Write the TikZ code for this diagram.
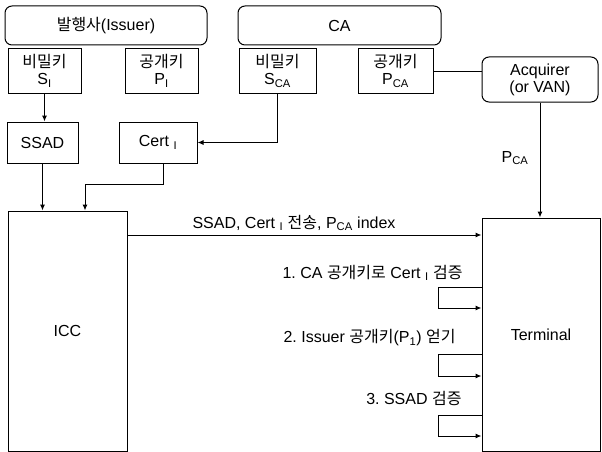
\documentclass[tikz,border=0pt]{standalone}
\usepackage{fontspec}
\setmainfont{Liberation Sans}
\newfontfamily\kr[Scale=1.0]{Noto Sans CJK KR}
\usetikzlibrary{arrows.meta}
\frenchspacing
\begin{document}
\begin{tikzpicture}[x=1pt,y=-1pt, line width=1pt,
  font=\fontsize{16}{17}\selectfont\frenchspacing,
  box/.style={draw, inner sep=0pt, align=center},
  rbox/.style={box, rounded corners=7pt},
  arr/.style={-{Latex[length=6pt,width=5pt]}},
  lbl/.style={inner sep=0pt, anchor=east}]
\useasboundingbox (0,0) rectangle (602,452);
% top row
\node[rbox, minimum width=202pt, minimum height=39pt] (issuer) at (106,25.5) {{\kr 발행사}(Issuer)};
\node[rbox, minimum width=203pt, minimum height=39pt] (ca) at (339.5,25.5) {CA};
\node[box, minimum width=73pt, minimum height=44pt] (si) at (44.5,71) {{\kr 비밀키}\\S\textsubscript{I}};
\node[box, minimum width=73pt, minimum height=44pt] (pi) at (161.5,71) {{\kr 공개키}\\P\textsubscript{I}};
\node[box, minimum width=77pt, minimum height=44pt] (sca) at (277.5,71) {{\kr 비밀키}\\S\textsubscript{CA}};
\node[box, minimum width=75pt, minimum height=44pt] (pca) at (395.5,71) {{\kr 공개키}\\P\textsubscript{CA}};
\node[rbox, minimum width=116pt, minimum height=45pt] (acq) at (540,79.5) {Acquirer\\(or VAN)};
% second row
\node[box, minimum width=71pt, minimum height=41pt] (ssad) at (42.5,142.5) {SSAD};
\node[box, minimum width=78pt, minimum height=41pt] (cert) at (158,142.5) {Cert \textsubscript{I}};
% main boxes
\node[box, minimum width=119pt, minimum height=240pt] (icc) at (67.5,331) {ICC};
\node[box, minimum width=118pt, minimum height=233pt] (term) at (541,334.5) {Terminal};
% connectors
\draw[arr] (si.south) -- (si.south |- ssad.north);
\draw[arr] (sca.south) |- (cert.east);
\draw (pca.east) -- (pca.east -| acq.west);
\draw[arr] (acq.south) -- (acq.south |- term.north);
\node[inner sep=0pt] (pcalbl) at (515,158) {P\textsubscript{CA}};
\draw[arr] (ssad.south) -- (ssad.south |- icc.north);
\draw[arr] ([xshift=5pt]cert.south) -- ++(0,21) -| ([xshift=17.5pt]icc.north);
\coordinate (m) at (0,235);
\draw[arr] (icc.east |- m) -- (term.west |- m);
\node[inner sep=0pt, anchor=base west] (sendlbl) at (192,228) {SSAD, Cert \textsubscript{I} {\kr 전송}, P\textsubscript{CA} index};
% self loops
\coordinate (l1) at (438,287); \coordinate (l1b) at (438,308);
\draw[arr] (term.west |- l1) -- (l1) -- (l1b) -- (term.west |- l1b);
\coordinate (l2) at (438,354); \coordinate (l2b) at (438,376);
\draw[arr] (term.west |- l2) -- (l2) -- (l2b) -- (term.west |- l2b);
\coordinate (l3) at (438,415); \coordinate (l3b) at (438,436);
\draw[arr] (term.west |- l3) -- (l3) -- (l3b) -- (term.west |- l3b);
\node[lbl] (s1) at (463,273) {1. CA {\kr 공개키로} Cert \textsubscript{I} {\kr 검증}};
\node[lbl] (s2) at (456,338) {2. Issuer {\kr 공개키}(P\textsubscript{1}) {\kr 얻기}};
\node[lbl] (s3) at (462,398) {3. SSAD {\kr 검증}};
\end{tikzpicture}
\end{document}
